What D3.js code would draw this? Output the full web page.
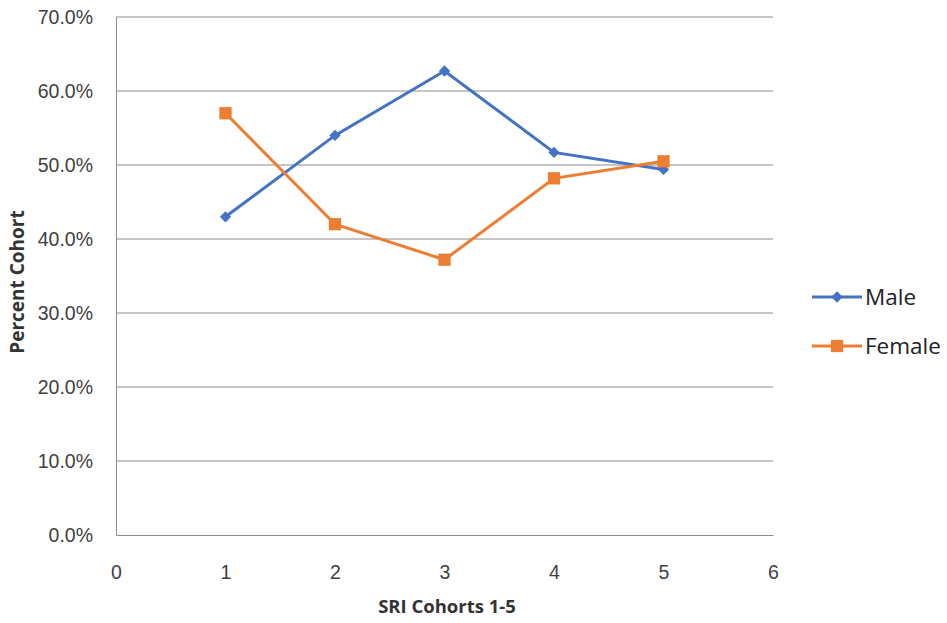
<!DOCTYPE html>
<html><head><meta charset="utf-8">
<script src="https://cdn.jsdelivr.net/npm/d3@7"></script>
<style>body{margin:0;background:#fff;} svg{display:block;font-family:"Open Sans","Liberation Sans",sans-serif;}</style>
</head><body><svg id="c" width="947" height="623"></svg>
<script>
const cohorts = [1, 2, 3, 4, 5];
const male = [43.0, 54.0, 62.7, 51.7, 49.4];
const female = [57.0, 42.0, 37.2, 48.2, 50.5];
const xTicks = [0, 1, 2, 3, 4, 5, 6];
const yTicks = [0, 10, 20, 30, 40, 50, 60, 70];
const seriesNames = ["Male", "Female"];
const colors = ["#4472C4", "#ED7D31"];

const svg = d3.select("#c");
const x = d3.scaleLinear().domain([0, 6]).range([116, 773]);
const y = d3.scaleLinear().domain([0, 70]).range([535, 17]);

// gridlines
svg.append("g").selectAll("line").data(yTicks.filter(d => d > 0)).join("line")
  .attr("x1", x(0)).attr("x2", x(6)).attr("y1", d => y(d)).attr("y2", d => y(d))
  .attr("stroke", "#8c8c8c").attr("stroke-width", 1);

// axes
const yAxis = svg.append("g").attr("transform", `translate(${x(0)},0)`)
  .call(d3.axisLeft(y).tickValues(yTicks).tickFormat(d => d.toFixed(1) + "%").tickSize(0).tickPadding(23));
const xAxis = svg.append("g").attr("transform", `translate(0,${y(0)})`)
  .call(d3.axisBottom(x).tickValues(xTicks).tickFormat(d3.format("d")).tickSize(0).tickPadding(30));
[yAxis, xAxis].forEach(a => {
  a.select(".domain").attr("stroke", "#8c8c8c").attr("stroke-width", 1);
  a.selectAll("text").attr("font-size", 19.5).attr("fill", "#404040");
});

// axis titles
svg.append("text").attr("x", 447).attr("y", 613).attr("text-anchor", "middle")
  .attr("font-size", 18.5).attr("font-weight", "bold").attr("fill", "#333").text("SRI Cohorts 1-5");
svg.append("text").attr("transform", "translate(24,282) rotate(-90)").attr("text-anchor", "middle")
  .attr("font-size", 19).attr("font-weight", "bold").attr("fill", "#333").text("Percent Cohort");

const data = [male, female];
const line = d3.line().x((d, i) => x(cohorts[i])).y(d => y(d));
const diamond = d3.symbol().type(d3.symbolSquare).size(64);
const square = d3.symbol().type(d3.symbolSquare).size(150);

data.forEach((vals, si) => {
  svg.append("path").datum(vals).attr("d", line).attr("fill", "none")
    .attr("stroke", colors[si]).attr("stroke-width", 3);
  svg.append("g").selectAll("path").data(vals).join("path")
    .attr("transform", (d, i) => `translate(${x(cohorts[i])},${y(d)})` + (si === 0 ? " rotate(45)" : ""))
    .attr("d", si === 0 ? diamond : square).attr("fill", colors[si]);
});

// legend
seriesNames.forEach((name, i) => {
  const ly = 297 + i * 49;
  const g = svg.append("g");
  g.append("line").attr("x1", 812).attr("x2", 862).attr("y1", ly).attr("y2", ly)
    .attr("stroke", colors[i]).attr("stroke-width", 3);
  g.append("path").attr("transform", `translate(837,${ly})` + (i === 0 ? " rotate(45)" : ""))
    .attr("d", i === 0 ? diamond : square).attr("fill", colors[i]);
  g.append("text").attr("x", 865).attr("y", ly + 8).attr("font-size", 22.5).attr("fill", "#222").text(name);
});
</script></body></html>
